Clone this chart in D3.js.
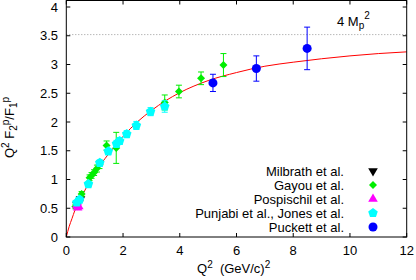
<!DOCTYPE html>
<html><head><meta charset="utf-8">
<script src="https://cdn.jsdelivr.net/npm/d3@7"></script>
<style>body{margin:0;background:#fff}svg{display:block}text{font-family:"Liberation Sans",Arial,sans-serif}</style>
</head><body><svg id="c" width="416" height="280"></svg>
<script>
// ---- data ----
const xTicks = [0, 2, 4, 6, 8, 10, 12];
const yTicks = [0, 0.5, 1, 1.5, 2, 2.5, 3, 3.5, 4];
const yTickLabels = ["0", "0.5", "1", "1.5", "2", "2.5", "3", "3.5", "4"];
const mp2x4 = 3.52;

const milbrathQ2 = [0.38, 0.50];
const milbrathVal = [0.56, 0.66];
const milbrathErr = [0.03, 0.03];

const gayouQ2 = [0.32, 0.54, 0.82, 0.89, 0.98, 1.08, 1.17, 1.42, 1.76, 3.47, 3.97, 4.75, 5.54];
const gayouVal = [0.53, 0.75, 1.03, 1.07, 1.12, 1.19, 1.26, 1.59, 1.55, 2.34, 2.53, 2.76, 2.99];
const gayouErr = [0.04, 0.04, 0.05, 0.05, 0.05, 0.06, 0.07, 0.08, 0.27, 0.13, 0.11, 0.11, 0.20];

const pospQ2 = [0.37, 0.40, 0.44];
const pospVal = [0.55, 0.51, 0.53];
const pospErr = [0.03, 0.03, 0.03];

const punjQ2 = [0.37, 0.47, 0.78, 1.18, 1.48, 1.77, 1.88, 2.13, 2.47, 2.97, 3.47];
const punjVal = [0.60, 0.65, 0.92, 1.29, 1.49, 1.62, 1.67, 1.79, 1.94, 2.18, 2.27];
const punjErr = [0.03, 0.03, 0.04, 0.05, 0.05, 0.06, 0.06, 0.06, 0.07, 0.07, 0.10];

const puckQ2 = [5.17, 6.70, 8.49];
const puckVal = [2.68, 2.93, 3.28];
const puckErr = [0.15, 0.22, 0.37];

const fitQ2 = [0, 0.1, 0.2, 0.3, 0.5, 0.75, 1.0, 1.5, 2, 2.5, 3, 3.5, 4, 5, 6, 7, 8, 9, 10, 11, 12];
const fitVal = [0, 0.18, 0.32, 0.46, 0.66, 0.9, 1.11, 1.45, 1.75, 2.0, 2.2, 2.37, 2.51, 2.72, 2.86, 2.97, 3.04, 3.1, 3.15, 3.19, 3.22];

const legendNames = ["Milbrath et al.", "Gayou et al.", "Pospischil et al.", "Punjabi et al., Jones et al.", "Puckett et al."];

// ---- chart ----
const svg = d3.select("#c");
const L = 66.3, R = 406.7, B = 237, T = 0.5;
const x = d3.scaleLinear().domain([0, 12]).range([L, R]);
const y = d3.scaleLinear().domain([0, 4]).range([B, 7]);

const pentagon = {draw(ctx, size) {
  const r = Math.sqrt(size / 2.378);
  for (let i = 0; i < 5; i++) {
    const a = -Math.PI / 2 + i * 2 * Math.PI / 5;
    const px = r * Math.cos(a), py = r * Math.sin(a);
    if (i === 0) ctx.moveTo(px, py); else ctx.lineTo(px, py);
  }
  ctx.closePath();
}};
const series = [
  {q: milbrathQ2, v: milbrathVal, e: milbrathErr, color: "#000000", type: d3.symbolTriangle, size: 40, rot: 180},
  {q: gayouQ2, v: gayouVal, e: gayouErr, color: "#00ee00", type: d3.symbolSquare, size: 32, rot: 45},
  {q: pospQ2, v: pospVal, e: pospErr, color: "#ff00ff", type: d3.symbolTriangle, size: 40, rot: 0},
  {q: punjQ2, v: punjVal, e: punjErr, color: "#00ffff", type: pentagon, size: 60, rot: 0},
  {q: puckQ2, v: puckVal, e: puckErr, color: "#0000ff", type: d3.symbolCircle, size: 64, rot: 0}
];

// dotted 4Mp^2 line
svg.append("line").attr("x1", L).attr("x2", R).attr("y1", y(mp2x4)).attr("y2", y(mp2x4))
  .attr("stroke", "#999").attr("stroke-width", 1).attr("stroke-dasharray", "1,2");

// fit curve
svg.append("path").datum(fitQ2.map((q, i) => [q, fitVal[i]]))
  .attr("d", d3.line().x(d => x(d[0])).y(d => y(d[1])).curve(d3.curveMonotoneX))
  .attr("fill", "none").attr("stroke", "#ff0000").attr("stroke-width", 1);

// data
series.forEach(s => {
  const g = svg.append("g");
  s.q.forEach((q, i) => {
    const cx = x(q), y1 = y(s.v[i] + s.e[i]), y2 = y(s.v[i] - s.e[i]);
    g.append("line").attr("x1", cx).attr("x2", cx).attr("y1", y1).attr("y2", y2).attr("stroke", s.color).attr("stroke-width", 1);
    [y1, y2].forEach(yy => g.append("line").attr("x1", cx - 3).attr("x2", cx + 3).attr("y1", yy).attr("y2", yy).attr("stroke", s.color).attr("stroke-width", 1));
  });
  s.q.forEach((q, i) => {
    g.append("path").attr("d", d3.symbol().type(s.type).size(s.size)())
      .attr("transform", `translate(${x(q)},${y(s.v[i])}) rotate(${s.rot})`).attr("fill", s.color);
  });
});

// frame
svg.append("rect").attr("x", L).attr("y", T).attr("width", R - L).attr("height", B - T)
  .attr("fill", "none").attr("stroke", "#000").attr("stroke-width", 1);

// ticks
const tk = svg.append("g").attr("stroke", "#000").attr("stroke-width", 1);
xTicks.forEach(t => {
  tk.append("line").attr("x1", x(t)).attr("x2", x(t)).attr("y1", B).attr("y2", B - 4);
  tk.append("line").attr("x1", x(t)).attr("x2", x(t)).attr("y1", T).attr("y2", T + 4);
});
yTicks.forEach(t => {
  tk.append("line").attr("x1", L).attr("x2", L + 4).attr("y1", y(t)).attr("y2", y(t));
  tk.append("line").attr("x1", R).attr("x2", R - 4).attr("y1", y(t)).attr("y2", y(t));
});
xTicks.forEach(t => svg.append("text").attr("x", x(t)).attr("y", 255).attr("text-anchor", "middle")
  .attr("font-size", 13).text(t));
yTicks.forEach((t, i) => svg.append("text").attr("x", 58).attr("y", y(t) + 4.5).attr("text-anchor", "end")
  .attr("font-size", 13).text(yTickLabels[i]));

// axis labels
const xl = svg.append("text").attr("x", 197).attr("y", 273).attr("font-size", 13);
xl.append("tspan").text("Q");
xl.append("tspan").attr("dy", -5).attr("font-size", 10).text("2");
xl.append("tspan").attr("dy", 5).text("\u00a0\u00a0(GeV/c)");
xl.append("tspan").attr("dy", -5).attr("font-size", 10).text("2");

const yl = svg.append("text").attr("transform", "translate(14,158) rotate(-90)").attr("font-size", 13);
yl.append("tspan").text("Q");
yl.append("tspan").attr("dy", -5).attr("font-size", 10).text("2");
yl.append("tspan").attr("dy", 5).text("\u00a0F");
yl.append("tspan").attr("dy", 3).attr("font-size", 10).text("2");
yl.append("tspan").attr("dy", -8).attr("font-size", 10).text("p");
yl.append("tspan").attr("dy", 5).text("/F");
yl.append("tspan").attr("dy", 3).attr("font-size", 10).text("1");
yl.append("tspan").attr("dy", -8).attr("font-size", 10).text("p");

const ml = svg.append("text").attr("x", 337).attr("y", 26).attr("font-size", 13);
ml.append("tspan").text("4 M");
ml.append("tspan").attr("dy", 3).attr("font-size", 10).text("p");
ml.append("tspan").attr("dy", -10).attr("font-size", 10).text("2");

// legend
legendNames.forEach((n, i) => {
  const cy = 171 + i * 14;
  svg.append("text").attr("x", 344).attr("y", cy + 4.5).attr("text-anchor", "end").attr("font-size", 13).text(n);
  const s = series[i];
  svg.append("path").attr("d", d3.symbol().type(s.type).size(s.size)())
    .attr("transform", `translate(373,${cy}) rotate(${s.rot})`).attr("fill", s.color);
});
</script></body></html>
